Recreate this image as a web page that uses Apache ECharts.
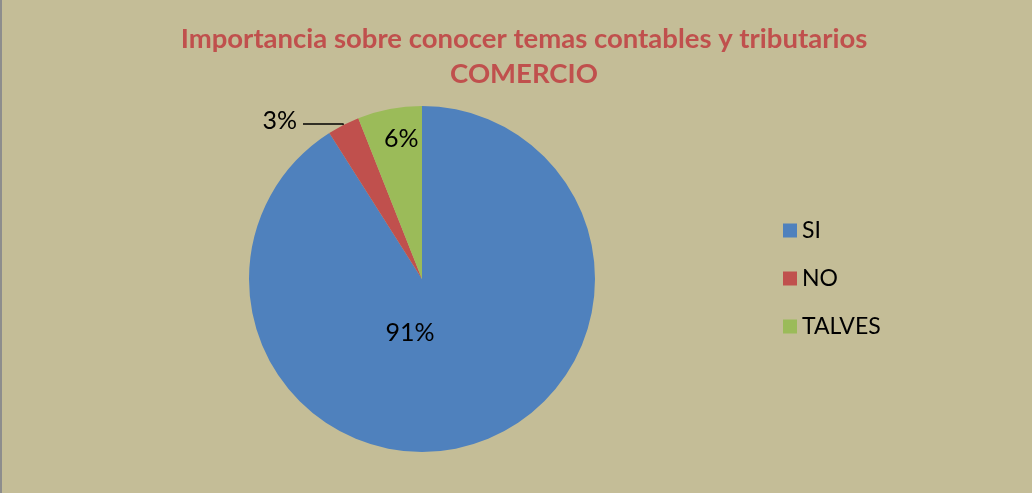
<!DOCTYPE html>
<html>
<head>
<meta charset="UTF-8">
<title>Importancia sobre conocer temas contables y tributarios</title>
<style>
  html, body { margin: 0; padding: 0; background: #C4BD97; }
  #chart { width: 1030px; height: 493px; border-left: 2px solid #8d8d8d; }
</style>
</head>
<body>
<div id="chart"></div>
<script src="https://cdn.jsdelivr.net/npm/echarts@6/dist/echarts.min.js"></script>
<script>
// data
var categories = ['SI', 'NO', 'TALVES'];
var values = [91, 3, 6];
var colors = ['#4F81BD', '#C0504D', '#9BBB59'];

// label nudges so they sit where the original puts them
var labelShift = [[-37, -32], [0, -3], [-4, -52]];

var chart = echarts.init(document.getElementById('chart'));

var pieData = categories.map(function (name, i) {
  var item = { name: name, value: values[i], itemStyle: { color: colors[i] } };
  if (name === 'NO') {
    item.label = { position: 'outside', distanceToLabelLine: 6 };
    item.labelLine = { show: true, length: 1, length2: 40, smooth: false,
      lineStyle: { color: '#000', width: 1.5 } };
  } else {
    item.label = { position: 'inside' };
    item.labelLine = { show: false };
  }
  return item;
});

chart.setOption({
  backgroundColor: '#C4BD97',
  animation: false,
  title: {
    text: 'Importancia sobre conocer temas contables y tributarios\nCOMERCIO',
    left: 517,
    top: 17,
    textAlign: 'center',
    textStyle: {
      fontFamily: 'Lato',
      fontWeight: 'bold',
      fontSize: 27.5,
      lineHeight: 35,
      color: '#C0504D'
    }
  },
  legend: {
    orient: 'vertical',
    left: 776,
    top: 214,
    itemWidth: 14,
    itemHeight: 14,
    itemGap: 25,
    icon: 'rect',
    data: categories,
    textStyle: { fontFamily: 'Lato', fontSize: 23, lineHeight: 22, color: '#000' }
  },
  series: [{
    type: 'pie',
    center: [420, 279],
    radius: 173,
    startAngle: 90,
    clockwise: true,
    avoidLabelOverlap: false,
    label: {
      show: true,
      formatter: '{d}%',
      fontFamily: 'Lato',
      fontSize: 25,
      color: '#000'
    },
    labelLayout: function (p) {
      var s = labelShift[p.dataIndex];
      return { dx: s[0], dy: s[1] };
    },
    emphasis: { disabled: true },
    data: pieData
  }]
});
</script>
</body>
</html>
